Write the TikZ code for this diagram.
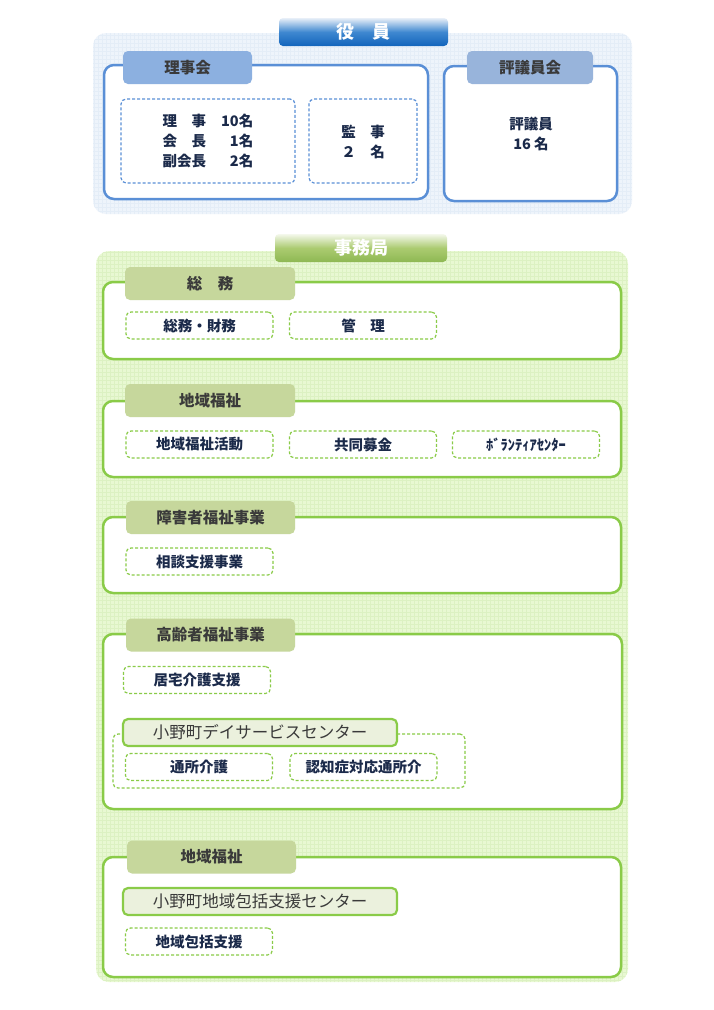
\documentclass[tikz,border=0pt]{standalone}
\usepackage{fontspec}
\setmainfont{Noto Sans CJK JP}
\definecolor{panelblue}{HTML}{EEF4FB}
\definecolor{gridblue}{HTML}{E4EDF7}
\definecolor{lineblue}{HTML}{5A8FD6}
\definecolor{tabblue}{HTML}{8CB0E0}
\definecolor{tabgrayblue}{HTML}{98B4DB}
\definecolor{headbluetop}{HTML}{E8EFF8}
\definecolor{headbluemid}{HTML}{3F88D0}
\definecolor{headbluebot}{HTML}{1264BC}
\definecolor{panelgreen}{HTML}{E8F8D2}
\definecolor{gridgreen}{HTML}{DCF1C2}
\definecolor{linegreen}{HTML}{8ACB48}
\definecolor{tabgreen}{HTML}{C6D79C}
\definecolor{subtabgreen}{HTML}{EBF1DD}
\definecolor{headgreentop}{HTML}{F4F8EC}
\definecolor{headgreenmid}{HTML}{ABCB70}
\definecolor{headgreenbot}{HTML}{8EB853}
\definecolor{tabtext}{HTML}{3A3A3A}
\definecolor{itemtext}{HTML}{1B2A4A}
\begin{document}
\begin{tikzpicture}[x=1pt,y=-1pt,
  panel/.style={rounded corners=13pt, inner sep=0pt},
  head/.style={rounded corners=4pt, inner sep=0pt, minimum height=28pt, text=white,
    font=\fontsize{18}{20}\selectfont\bfseries},
  bigbox/.style={line width=2.5pt, fill=white, rounded corners=10pt, inner sep=0pt},
  tab/.style={rounded corners=5pt, inner sep=0pt, minimum height=33pt, text=tabtext,
    font=\fontsize{15.5}{18}\selectfont\bfseries},
  dashbox/.style={line width=1.2pt, dash pattern=on 3pt off 2pt, rounded corners=5pt,
    inner sep=0pt, fill=white},
  item/.style={dashbox, draw=linegreen, minimum width=147pt, minimum height=27pt,
    text=itemtext, font=\fontsize{14.5}{17}\selectfont\bfseries},
  subtab/.style={draw=linegreen, line width=2.2pt, fill=subtabgreen, rounded corners=5pt,
    inner sep=0pt, minimum width=274pt, minimum height=27pt, text=tabtext,
    font=\fontsize{16.5}{19}\selectfont},
  memtext/.style={text=itemtext, align=center, inner sep=0pt,
    font=\fontsize{14.5}{20}\selectfont\bfseries}]

\fill[white] (0,0) rectangle (714,1010);
\useasboundingbox (0,0) rectangle (714,1010);

% 役員
\node[panel, fill=panelblue, minimum width=539pt, minimum height=181pt,
  path picture={\draw[gridblue, line width=0.4pt] (path picture bounding box.north west)
  grid[step=4pt] (path picture bounding box.south east);}] (yakuin) at (362.5,123.5) {};
\node[head, minimum width=169pt, top color=headbluetop, bottom color=headbluebot,
  middle color=headbluemid] (yakuinhead) at (363.5,32) {役　員};

\node[bigbox, draw=lineblue, minimum width=324pt, minimum height=134pt] (rijikai) at (266,132) {};
\node[tab, fill=tabblue, minimum width=129pt] (rijikaitab) at (187.5,67.5) {理事会};
\node[dashbox, draw=lineblue, minimum width=174pt, minimum height=84pt] (rijibox) at (208,141) {};
\node[memtext] (rijilist) at (208,142.5)
  {\begin{tabular}{@{}l@{\hspace{15pt}}r@{}}理　事 & 10名\\ 会　長 & 1名\\ 副会長 & 2名\end{tabular}};
\node[dashbox, draw=lineblue, minimum width=108pt, minimum height=84pt] (kanjibox) at (363,141) {};
\node[memtext] (kanjilist) at (363,142) {監　事\\２　名};

\node[bigbox, draw=lineblue, minimum width=173pt, minimum height=135pt] (hyogiinkai) at (530.5,133.5) {};
\node[tab, fill=tabgrayblue, minimum width=126pt] (hyogiinkaitab) at (530,67.5) {評議員会};
\node[memtext] (hyogiinlist) at (531,134) {評議員\\16 名};

% 事務局
\node[panel, fill=panelgreen, minimum width=532pt, minimum height=731pt,
  path picture={\draw[gridgreen, line width=0.4pt] (path picture bounding box.north west)
  grid[step=4pt] (path picture bounding box.south east);}] (jimukyoku) at (362,616.5) {};
\node[head, minimum width=172pt, top color=headgreentop, bottom color=headgreenbot,
  middle color=headgreenmid] (jimukyokuhead) at (361,248) {事務局};

% 総務
\node[bigbox, draw=linegreen, minimum width=518pt, minimum height=77pt] (somu) at (362,320.5) {};
\node[tab, fill=tabgreen, minimum width=170pt] (somutab) at (210,283.5) {総　務};
\node[item] (somuzaimu) at (199.5,325.5) {総務・財務};
\node[item] (kanri) at (363,325.5) {管　理};

% 地域福祉
\node[bigbox, draw=linegreen, minimum width=518pt, minimum height=76pt] (chiiki) at (362,439) {};
\node[tab, fill=tabgreen, minimum width=170pt] (chiikitab) at (210,400.5) {地域福祉};
\node[item] (katsudo) at (199.5,444.5) {地域福祉活動};
\node[item] (bokin) at (363,444.5) {共同募金};
\node[item] (volunteer) at (526,444.5) {ﾎﾞﾗﾝﾃｨｱｾﾝﾀｰ};

% 障害者福祉事業
\node[bigbox, draw=linegreen, minimum width=518pt, minimum height=76pt] (shogai) at (362,555) {};
\node[tab, fill=tabgreen, minimum width=169pt] (shogaitab) at (210.5,517.5) {障害者福祉事業};
\node[item] (sodan) at (199.5,561.5) {相談支援事業};

% 高齢者福祉事業
\node[bigbox, draw=linegreen, minimum width=519pt, minimum height=175pt] (korei) at (362.5,721.5) {};
\node[tab, fill=tabgreen, minimum width=169pt] (koreitab) at (210.5,635) {高齢者福祉事業};
\node[item] (kyotaku) at (197,680) {居宅介護支援};
\node[dashbox, draw=linegreen, fill=none, minimum width=352pt, minimum height=54pt] (daygroup) at (289,761) {};
\node[subtab] (dayservice) at (260,732.5) {小野町デイサービスセンター};
\node[item] (tsusho) at (199,767) {通所介護};
\node[item] (ninchisho) at (363.5,767) {認知症対応通所介};

% 地域福祉
\node[bigbox, draw=linegreen, minimum width=518pt, minimum height=120pt] (chiiki2) at (362,917) {};
\node[tab, fill=tabgreen, minimum width=169pt] (chiiki2tab) at (211.5,857) {地域福祉};
\node[subtab] (hokatsucenter) at (260,901.5) {小野町地域包括支援センター};
\node[item] (hokatsu) at (199,941.5) {地域包括支援};
\end{tikzpicture}
\end{document}
